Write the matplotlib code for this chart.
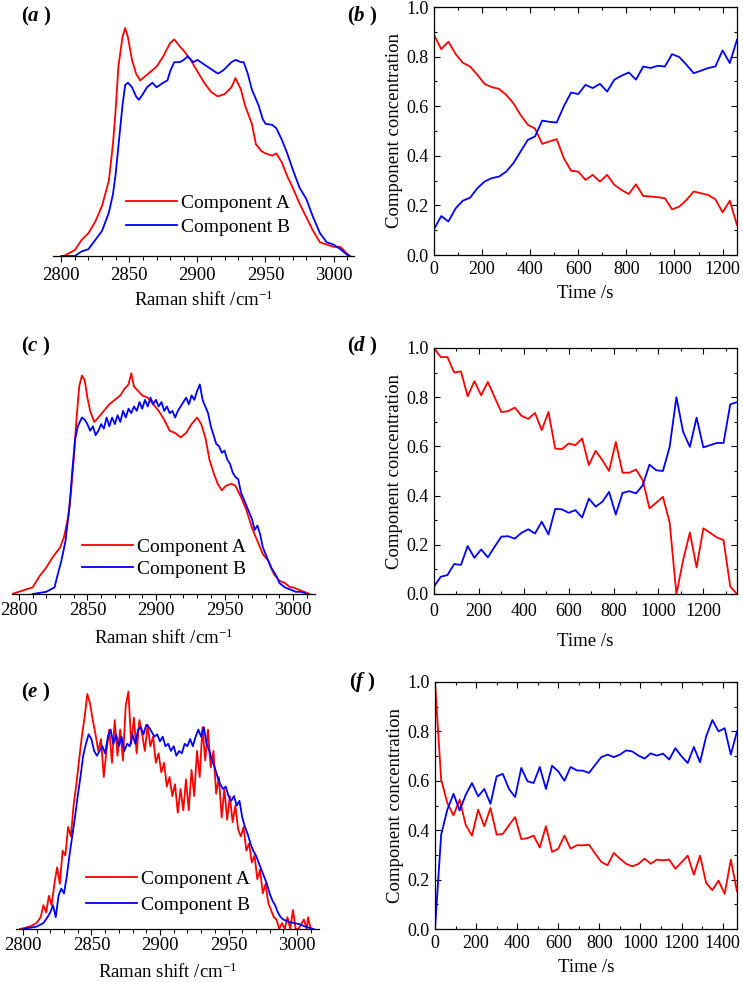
import numpy as np
import matplotlib.pyplot as plt
from matplotlib.ticker import MultipleLocator

plt.rcParams['font.family'] = ['Liberation Serif', 'DejaVu Serif']
plt.rcParams['mathtext.fontset'] = 'custom'
plt.rcParams['mathtext.rm'] = 'Liberation Serif'
plt.rcParams['mathtext.it'] = 'Liberation Serif:italic'
plt.rcParams['mathtext.bf'] = 'Liberation Serif:bold'
plt.rcParams['mathtext.bfit'] = 'Liberation Serif:italic:bold'

# ---- spectra (normalised intensity) ----
a_shift_A = [2802, 2810, 2815, 2820, 2825, 2830, 2835, 2838, 2840, 2842, 2845, 2847, 2849, 2852, 2855,
             2858, 2862, 2866, 2870, 2875, 2880, 2883, 2887, 2890, 2895, 2900, 2905, 2910, 2915, 2920,
             2925, 2928, 2932, 2935, 2940, 2943, 2947, 2950, 2955, 2958, 2962, 2966, 2970, 2975, 2980,
             2985, 2990, 2995, 3000, 3005, 3010, 3012]
a_int_A = [0.0, 0.026, 0.07, 0.10, 0.15, 0.22, 0.33, 0.49, 0.64, 0.83, 0.96, 1.0, 0.96, 0.86, 0.80,
           0.77, 0.79, 0.81, 0.83, 0.876, 0.934, 0.95, 0.92, 0.90, 0.86, 0.81, 0.76, 0.72, 0.70, 0.71,
           0.74, 0.78, 0.73, 0.66, 0.58, 0.49, 0.46, 0.45, 0.44, 0.45, 0.41, 0.35, 0.30, 0.23, 0.17,
           0.11, 0.06, 0.05, 0.04, 0.04, 0.01, 0.0]
a_shift_B = [2800, 2810, 2815, 2820, 2825, 2830, 2835, 2838, 2840, 2843, 2845, 2847, 2849, 2852, 2855,
             2857, 2860, 2863, 2867, 2870, 2875, 2878, 2880, 2883, 2887, 2890, 2893, 2897, 2900, 2905,
             2910, 2915, 2918, 2920, 2925, 2928, 2932, 2934, 2937, 2940, 2945, 2948, 2950, 2955, 2958,
             2962, 2966, 2970, 2975, 2980, 2985, 2990, 2995, 3000, 3005, 3010, 3012]
a_int_B = [0.0, 0.0, 0.02, 0.03, 0.07, 0.11, 0.19, 0.27, 0.36, 0.54, 0.66, 0.75, 0.76, 0.74, 0.70,
           0.685, 0.71, 0.74, 0.76, 0.74, 0.76, 0.77, 0.81, 0.85, 0.85, 0.86, 0.876, 0.85, 0.86, 0.84,
           0.82, 0.80, 0.81, 0.82, 0.85, 0.86, 0.85, 0.85, 0.80, 0.73, 0.66, 0.60, 0.58, 0.575, 0.56,
           0.51, 0.45, 0.38, 0.30, 0.25, 0.17, 0.10, 0.06, 0.05, 0.03, 0.005, 0.0]

c_shift_A = [2795, 2800, 2805, 2810, 2815, 2820, 2825, 2830, 2833, 2836, 2838, 2840, 2842, 2844, 2846,
             2848, 2850, 2852, 2855, 2858, 2862, 2866, 2870, 2874, 2877, 2880, 2882, 2884, 2887, 2890,
             2894, 2898, 2902, 2906, 2910, 2914, 2918, 2922, 2926, 2930, 2933, 2936, 2939, 2942, 2945,
             2948, 2951, 2955, 2958, 2962, 2966, 2970, 2974, 2978, 2982, 2986, 2990, 2994, 2998, 3000,
             3004, 3008, 3012]
c_int_A = [0.0, 0.01, 0.02, 0.03, 0.08, 0.12, 0.17, 0.21, 0.26, 0.35, 0.46, 0.61, 0.79, 0.94, 0.99,
           0.97, 0.89, 0.83, 0.78, 0.80, 0.83, 0.86, 0.88, 0.90, 0.93, 0.95, 1.0, 0.94, 0.92, 0.90,
           0.89, 0.86, 0.83, 0.79, 0.74, 0.73, 0.71, 0.73, 0.77, 0.80, 0.77, 0.71, 0.61, 0.55, 0.50,
           0.47, 0.49, 0.50, 0.49, 0.44, 0.38, 0.30, 0.24, 0.18, 0.15, 0.09, 0.06, 0.05, 0.03, 0.03,
           0.02, 0.01, 0.0]
c_shift_B = [2810, 2820, 2826, 2828, 2831, 2834, 2837, 2839, 2841, 2843, 2846, 2848, 2850, 2852, 2854,
             2856, 2858, 2860, 2862, 2864, 2866, 2868, 2870, 2872, 2874, 2876, 2878, 2880, 2882, 2884,
             2886, 2888, 2890, 2892, 2894, 2896, 2898, 2900, 2902, 2904, 2906, 2908, 2910, 2912, 2914,
             2916, 2918, 2920, 2922, 2924, 2926, 2928, 2930, 2932, 2934, 2936, 2938, 2940, 2942, 2944,
             2946, 2948, 2950, 2952, 2954, 2956, 2958, 2960, 2962, 2964, 2966, 2968, 2970, 2972, 2974,
             2976, 2978, 2980, 2982, 2984, 2986, 2988, 2990, 2994, 2998, 3002, 3006, 3010]
c_int_B = [0.0, 0.01, 0.03, 0.08, 0.15, 0.24, 0.40, 0.56, 0.70, 0.76, 0.80, 0.79, 0.77, 0.74, 0.76,
           0.72, 0.74, 0.77, 0.75, 0.80, 0.76, 0.80, 0.77, 0.81, 0.78, 0.83, 0.80, 0.84, 0.82, 0.85,
           0.83, 0.87, 0.84, 0.88, 0.85, 0.89, 0.86, 0.88, 0.85, 0.87, 0.83, 0.85, 0.82, 0.83, 0.80,
           0.83, 0.85, 0.87, 0.89, 0.86, 0.90, 0.88, 0.92, 0.95, 0.88, 0.85, 0.82, 0.76, 0.72, 0.68,
           0.67, 0.64, 0.65, 0.61, 0.59, 0.55, 0.53, 0.52, 0.46, 0.43, 0.40, 0.37, 0.34, 0.29, 0.31,
           0.27, 0.21, 0.18, 0.15, 0.12, 0.10, 0.08, 0.05, 0.03, 0.02, 0.01, 0.01, 0.0]

e_shift_A = [2798, 2805, 2810, 2813, 2815, 2817, 2819, 2821, 2823, 2825, 2827, 2829, 2831, 2833, 2835,
             2837, 2839, 2841, 2843, 2845, 2847, 2849, 2851, 2853, 2855, 2857, 2859, 2861, 2863, 2865,
             2867, 2869, 2871, 2873, 2875, 2877, 2879, 2881, 2883, 2885, 2887, 2889, 2891, 2893, 2895,
             2897, 2899, 2901, 2903, 2905, 2907, 2909, 2911, 2913, 2915, 2917, 2919, 2921, 2923, 2925,
             2927, 2929, 2931, 2933, 2935, 2937, 2939, 2941, 2943, 2945, 2947, 2949, 2951, 2953, 2955,
             2957, 2959, 2961, 2963, 2965, 2967, 2969, 2971, 2973, 2975, 2977, 2979, 2981, 2983, 2985,
             2987, 2989, 2991, 2993, 2995, 2997, 2999, 3001, 3005, 3007, 3008, 3010]
e_int_A = [0.0, 0.01, 0.025, 0.05, 0.10, 0.07, 0.14, 0.10, 0.19, 0.26, 0.19, 0.33, 0.31, 0.43, 0.39,
           0.52, 0.61, 0.71, 0.81, 0.89, 0.99, 0.95, 0.88, 0.82, 0.75, 0.80, 0.64, 0.75, 0.84, 0.70,
           0.88, 0.73, 0.84, 0.71, 0.94, 1.0, 0.78, 0.89, 0.74, 0.88, 0.82, 0.75, 0.86, 0.77, 0.81,
           0.70, 0.74, 0.66, 0.70, 0.60, 0.64, 0.56, 0.61, 0.49, 0.59, 0.50, 0.63, 0.50, 0.67, 0.56,
           0.75, 0.64, 0.85, 0.71, 0.84, 0.68, 0.75, 0.57, 0.64, 0.47, 0.59, 0.46, 0.56, 0.45, 0.52,
           0.42, 0.39, 0.43, 0.33, 0.36, 0.28, 0.31, 0.21, 0.25, 0.15, 0.19, 0.11, 0.08, 0.05, 0.04,
           0.0, 0.025, 0.0, 0.05, 0.0, 0.08, 0.0, 0.0, 0.04, 0.0, 0.05, 0.0]
e_shift_B = [2800, 2810, 2815, 2818, 2820, 2822, 2824, 2826, 2828, 2830, 2832, 2834, 2836, 2838, 2840,
             2842, 2844, 2846, 2848, 2850, 2852, 2854, 2856, 2858, 2860, 2862, 2864, 2866, 2868, 2870,
             2872, 2874, 2876, 2878, 2880, 2882, 2884, 2886, 2888, 2890, 2892, 2894, 2896, 2898, 2900,
             2902, 2904, 2906, 2908, 2910, 2912, 2914, 2916, 2918, 2920, 2922, 2924, 2926, 2928, 2930,
             2932, 2934, 2936, 2938, 2940, 2942, 2944, 2946, 2948, 2950, 2952, 2954, 2956, 2958, 2960,
             2962, 2964, 2966, 2968, 2970, 2972, 2974, 2976, 2978, 2980, 2982, 2984, 2986, 2988, 2990,
             2994, 2998, 3002, 3006, 3012]
e_int_B = [0.0, 0.01, 0.025, 0.05, 0.07, 0.10, 0.05, 0.14, 0.17, 0.15, 0.22, 0.31, 0.39, 0.47, 0.56,
           0.64, 0.73, 0.78, 0.82, 0.80, 0.75, 0.73, 0.75, 0.77, 0.74, 0.81, 0.84, 0.78, 0.82, 0.77,
           0.81, 0.75, 0.78, 0.77, 0.82, 0.78, 0.84, 0.85, 0.82, 0.86, 0.85, 0.83, 0.81, 0.82, 0.79,
           0.81, 0.77, 0.78, 0.75, 0.77, 0.73, 0.75, 0.74, 0.78, 0.77, 0.80, 0.77, 0.81, 0.84, 0.81,
           0.85, 0.78, 0.75, 0.71, 0.68, 0.64, 0.61, 0.59, 0.60, 0.56, 0.54, 0.56, 0.52, 0.54, 0.47,
           0.43, 0.40, 0.36, 0.33, 0.31, 0.28, 0.25, 0.22, 0.19, 0.15, 0.12, 0.10, 0.07, 0.05, 0.04,
           0.03, 0.025, 0.02, 0.01, 0.0]

# ---- concentration profiles ----
b_time = list(range(0, 1261, 30))
b_conc_A = [0.888, 0.83, 0.86, 0.81, 0.775, 0.76, 0.727, 0.69, 0.677, 0.67, 0.646, 0.612, 0.565, 0.525,
            0.51, 0.448, 0.458, 0.467, 0.39, 0.34, 0.336, 0.303, 0.323, 0.296, 0.323, 0.283, 0.262,
            0.246, 0.285, 0.238, 0.236, 0.233, 0.229, 0.184, 0.195, 0.222, 0.256, 0.249, 0.242, 0.225,
            0.172, 0.219, 0.121]
b_conc_B = [0.104, 0.157, 0.135, 0.188, 0.219, 0.231, 0.269, 0.296, 0.31, 0.316, 0.336, 0.37, 0.417,
            0.464, 0.478, 0.542, 0.537, 0.534, 0.60, 0.655, 0.649, 0.686, 0.673, 0.69, 0.659, 0.707,
            0.723, 0.736, 0.707, 0.76, 0.754, 0.763, 0.76, 0.81, 0.798, 0.767, 0.733, 0.743, 0.754,
            0.76, 0.825, 0.774, 0.868]

d_time = list(range(0, 1351, 30))
d_conc_A = [1.0, 0.963, 0.963, 0.90, 0.905, 0.804, 0.865, 0.808, 0.862, 0.80, 0.74, 0.743, 0.758, 0.724,
            0.712, 0.736, 0.666, 0.74, 0.591, 0.589, 0.612, 0.605, 0.632, 0.524, 0.582, 0.544, 0.50,
            0.618, 0.493, 0.493, 0.506, 0.463, 0.348, 0.371, 0.395, 0.29, 0.0, 0.138, 0.25, 0.108,
            0.267, 0.249, 0.23, 0.219, 0.03, 0.0]
d_conc_B = [0.03, 0.07, 0.077, 0.122, 0.118, 0.195, 0.147, 0.181, 0.149, 0.192, 0.233, 0.235, 0.225,
            0.249, 0.263, 0.246, 0.294, 0.242, 0.346, 0.344, 0.33, 0.341, 0.311, 0.388, 0.355, 0.375,
            0.415, 0.323, 0.411, 0.418, 0.409, 0.442, 0.526, 0.503, 0.50, 0.598, 0.80, 0.659, 0.598,
            0.717, 0.596, 0.605, 0.614, 0.614, 0.771, 0.78]

f_time = list(range(0, 1471, 30))
f_conc_A = [1.0, 0.605, 0.51, 0.46, 0.524, 0.42, 0.378, 0.483, 0.416, 0.49, 0.382, 0.385, 0.42, 0.453,
            0.364, 0.368, 0.378, 0.33, 0.416, 0.312, 0.325, 0.378, 0.325, 0.339, 0.339, 0.341, 0.305,
            0.271, 0.258, 0.308, 0.285, 0.264, 0.254, 0.263, 0.285, 0.264, 0.281, 0.278, 0.281, 0.244,
            0.27, 0.297, 0.22, 0.297, 0.186, 0.157, 0.196, 0.142, 0.281, 0.152]
f_conc_B = [0.0, 0.382, 0.483, 0.547, 0.48, 0.544, 0.591, 0.537, 0.567, 0.507, 0.618, 0.628, 0.567,
            0.534, 0.652, 0.598, 0.591, 0.656, 0.567, 0.661, 0.638, 0.60, 0.656, 0.642, 0.641, 0.632,
            0.665, 0.696, 0.706, 0.696, 0.706, 0.723, 0.719, 0.702, 0.69, 0.711, 0.702, 0.71, 0.686,
            0.732, 0.699, 0.672, 0.737, 0.675, 0.78, 0.846, 0.80, 0.813, 0.706, 0.80]

W, H = 743, 982


def box(left, top, right, bottom):
    return [left / W, 1 - bottom / H, (right - left) / W, (bottom - top) / H]


fig = plt.figure(figsize=(W / 100, H / 100), dpi=100)


def spectrum(pos, xlim, ytop, xa, ya, xb, yb, leg_x, leg_y, spacing, tpad, lpad):
    ax = fig.add_axes(pos)
    ax.plot(xa, ya, color='red', lw=1.3, label='Component A')
    ax.plot(xb, yb, color='blue', lw=1.3, label='Component B')
    ax.set_xlim(*xlim)
    ax.set_ylim(0, ytop)
    for s in ['top', 'left', 'right']:
        ax.spines[s].set_visible(False)
    ax.spines['bottom'].set_linewidth(0.9)
    ax.set_yticks([])
    ax.xaxis.set_major_locator(MultipleLocator(50))
    ax.xaxis.set_minor_locator(MultipleLocator(10))
    ax.tick_params(axis='x', which='major', direction='out', length=4, width=0.8,
                   labelsize=13.5, pad=tpad)
    ax.tick_params(axis='x', which='minor', direction='out', length=3, width=0.7)
    ax.set_xlabel('Raman shift /cm$^{-1}$', fontsize=13.5, labelpad=lpad)
    ax.legend(loc='center left', bbox_to_anchor=(leg_x / W, 1 - leg_y / H),
              bbox_transform=fig.transFigure, frameon=False, fontsize=14,
              borderpad=0, borderaxespad=0, handlelength=2.6, handletextpad=0.25,
              labelspacing=spacing)
    return ax


def profile(pos, xmax, t, ca, cb, tpad, lpad):
    ax = fig.add_axes(pos)
    ax.plot(t, ca, color='red', lw=1.3)
    ax.plot(t, cb, color='blue', lw=1.3)
    ax.set_xlim(0, xmax)
    ax.set_ylim(0, 1.0)
    for s in ax.spines.values():
        s.set_linewidth(0.9)
    ax.xaxis.set_major_locator(MultipleLocator(200))
    ax.xaxis.set_minor_locator(MultipleLocator(100))
    ax.yaxis.set_major_locator(MultipleLocator(0.2))
    ax.yaxis.set_minor_locator(MultipleLocator(0.1))
    ax.yaxis.set_major_formatter(plt.FormatStrFormatter('%.1f'))
    ax.tick_params(which='both', direction='in', top=True, right=True, width=0.8,
                   labelsize=13, pad=4)
    ax.tick_params(axis='x', which='major', pad=tpad)
    ax.tick_params(which='major', length=4)
    ax.tick_params(which='minor', length=2.5)
    ax.set_xlabel('Time /s', fontsize=13.5, labelpad=lpad)
    ax.set_ylabel('Component concentration', fontsize=13.5, labelpad=2)
    return ax


spectrum(box(53, 20, 354, 256), (2794, 3015), 1.035, a_shift_A, a_int_A, a_shift_B, a_int_B,
         126, 215, 0.35, 4, 4.5)
spectrum(box(12, 365, 315, 594), (2795, 3016), 1.038, c_shift_A, c_int_A, c_shift_B, c_int_B,
         82, 558, 0.22, 2, 6.5)
spectrum(box(16, 684, 319, 929), (2795, 3016), 1.032, e_shift_A, e_int_A, e_shift_B, e_int_B,
         86, 892, 0.42, 2, 6)

profile(box(434, 7, 737, 255), 1260, b_time, b_conc_A, b_conc_B, 4, 5)
profile(box(434, 348, 737, 594), 1350, d_time, d_conc_A, d_conc_B, 6.5, 9)
profile(box(435, 682, 737, 929), 1470, f_time, f_conc_A, f_conc_B, 4, 5)

panel_labels = ['a', 'b', 'c', 'd', 'e', 'f']
label_xy = [(36, 16), (362, 16), (36, 346), (362, 346), (36, 692), (362, 682)]
for lab, (px, py) in zip(panel_labels, label_xy):
    fig.text(px / W, 1 - py / H, r'$\mathbf{(}\mathbfit{' + lab + r'}\ \mathbf{)}$',
             fontsize=15, ha='center', va='center')

fig.savefig('out.png', dpi=100)
